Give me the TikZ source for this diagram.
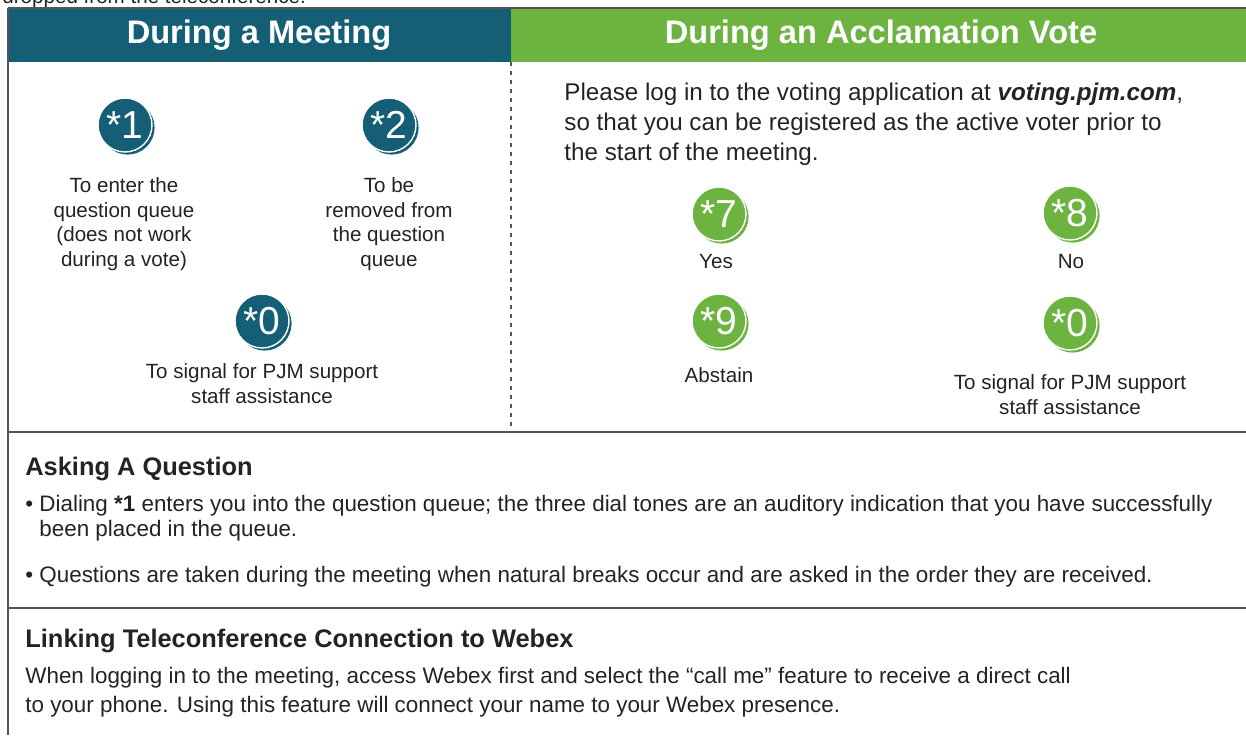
\documentclass[tikz,border=0pt]{standalone}
\usepackage{fontspec}
\setmainfont{Liberation Sans}
\usetikzlibrary{shadows}

\definecolor{meetblue}{RGB}{20,94,118}
\definecolor{votegreen}{RGB}{108,179,64}
\definecolor{inkgrey}{RGB}{35,35,35}
\definecolor{rulegrey}{RGB}{85,85,85}

\tikzset{
  badge/.style={circle, fill=#1, draw=white, line width=0.7pt, minimum size=27pt,
    inner sep=0pt, text=white, font=\fontsize{19.5}{19.5}\selectfont,
    copy shadow={shadow xshift=1.3pt, shadow yshift=-1.3pt, fill=#1, draw=none}},
  head/.style={text=white, font=\fontsize{16.3}{18}\selectfont\bfseries, inner sep=0pt},
  caption/.style={align=center, anchor=north, inner sep=0pt, text=inkgrey,
    font=\fontsize{10.3}{12.4}\selectfont},
  para/.style={align=left, anchor=north west, inner sep=0pt, text=inkgrey,
    font=\fontsize{12.1}{15}\selectfont},
  body/.style={align=left, anchor=north west, inner sep=0pt, text=inkgrey,
    font=\fontsize{11.2}{12.5}\selectfont},
  title/.style={anchor=north west, inner sep=0pt, text=inkgrey,
    font=\fontsize{12.7}{15}\selectfont\bfseries},
  frame/.style={rulegrey, line width=1pt},
}

\begin{document}
\begin{tikzpicture}[x=0.5pt,y=-0.5pt] %Tarjeta de la teleconferencia: teclas y avisos
            \useasboundingbox (0,0) rectangle (1246,735);

            \coordinate (A) at (8,8);
            \coordinate (B) at (1246,8);
            \coordinate (C) at (8,735);
            \coordinate (M) at (511,62);
            \coordinate (N) at (511,430);

            \coordinate (P) at (8,432);
            \coordinate (Q) at (1246,432);
            \coordinate (R) at (8,608);
            \coordinate (S) at (1246,608);

            \node[anchor=base west, inner sep=0pt, text=inkgrey, font=\fontsize{10.3}{12}\selectfont] (cut) at (2,3) {dropped from the teleconference.};

            \fill[meetblue] (A) rectangle (M);
            \fill[votegreen] (511,8) rectangle (1246,62);
            \draw[frame] (A) -- (B);
            \draw[frame] (A) -- (C);
            \draw[frame] (P) -- (Q);
            \draw[frame] (R) -- (S);
            \draw[rulegrey, line width=1pt, dash pattern=on 2pt off 2.5pt] (M) -- (N);

            \node[head] (hmeet) at (259,35) {During a Meeting};
            \node[head] (hvote) at (881,35) {During an Acclamation Vote};

            \node[badge=meetblue] (k1) at (125,125) {*1};
            \node[badge=meetblue] (k2) at (389,125) {*2};
            \node[badge=meetblue] (k0) at (262,321) {*0};
            \node[caption] (c1) at (124,177) {To enter the\\question queue\\(does not work\\during a vote)};
            \node[caption] (c2) at (389,177) {To be\\removed from\\the question\\queue};
            \node[caption] (c0) at (262,363) {To signal for PJM support\\staff assistance};

            \node[para] (login) at (564,83) {Please log in to the voting application at \textbf{\textit{voting.pjm.com}},\\so that you can be registered as the active voter prior to\\the start of the meeting.};

            \node[badge=votegreen] (k7) at (719,214) {*7};
            \node[badge=votegreen] (k8) at (1070,213) {*8};
            \node[badge=votegreen] (k9) at (719,321) {*9};
            \node[badge=votegreen] (kz) at (1070,323) {*0};
            \node[caption] (c7) at (716,254) {Yes};
            \node[caption] (c8) at (1071,254) {No};
            \node[caption] (c9) at (719,367) {Abstain};
            \node[caption] (cz) at (1070,374) {To signal for PJM support\\staff assistance};

            \node[title] (ask) at (25,457) {Asking A Question};
            \node[body] (b1) at (25,495) {\textbullet\ Dialing \textbf{*1} enters you into the question queue; the three dial tones are an auditory indication that you have successfully\\\phantom{\textbullet\ }been placed in the queue.};
            \node[body] (b2) at (25,566) {\textbullet\ Questions are taken during the meeting when natural breaks occur and are asked in the order they are received.};

            \node[title] (link) at (25,629) {Linking Teleconference Connection to Webex};
            \node[body, font=\fontsize{11.2}{14.5}\selectfont] (webex) at (25,667) {When logging in to the meeting, access Webex first and select the “call me” feature to receive a direct call\\to your phone. Using this feature will connect your name to your Webex presence.};
        \end{tikzpicture}
\end{document}
